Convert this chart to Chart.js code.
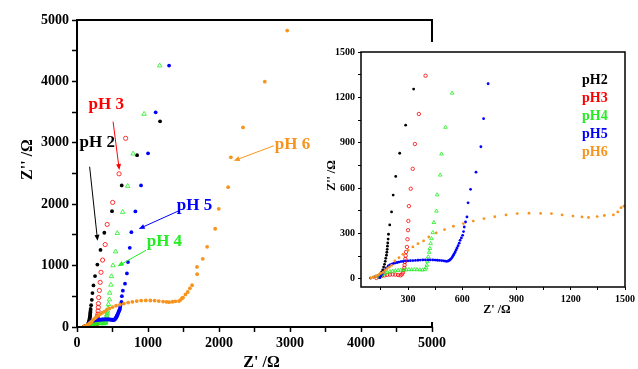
<!DOCTYPE html>
<html>
<head>
<meta charset="utf-8">
<script src="https://cdn.jsdelivr.net/npm/chart.js@4.4.1/dist/chart.umd.min.js"></script>
<style>
html, body { margin: 0; padding: 0; background: #fff; }
#wrap { position: relative; width: 638px; height: 369px; }
#main { position: absolute; left: 0; top: 0; }
#inset { position: absolute; left: 315px; top: 42px; background: #fff; }
</style>
</head>
<body>
<div id="wrap">
  <canvas id="main" width="638" height="369"></canvas>
  <canvas id="inset" width="323" height="280"></canvas>
</div>
<script>
// Z' (x) , Z'' (y) pairs, in ohm
var ph2 = [[93,4],[108,11],[122,16],[135,22],[146,32],[154,44],[160,58],[165,77],[170,95],[174,115],[177,135],[181,155],[183,175],[185,194],[186,215],[188,236],[190,262],[192,294],[199,356],[209,442],[218,553],[232,677],[254,830],[287,1016],[331,1255],[385,1535],[493,1887],[630,2306],[846,2798],[1170,3350]];
var ph3 = [[125,5],[140,12],[155,18],[170,22],[185,25],[200,27],[215,28],[230,27],[245,25],[258,22],[266,28],[272,40],[276,55],[279,72],[281,90],[283,110],[285,130],[287,152],[289,177],[294,210],[297,261],[300,321],[302,382],[305,480],[315,595],[326,727],[338,891],[360,1090],[397,1343],[425,1670],[502,2029],[592,2495],[685,3073]];
var ph4 = [[140,10],[150,20],[160,28],[172,36],[185,42],[200,47],[215,50],[230,53],[245,55],[260,57],[275,58],[290,59],[305,60],[320,60],[335,60],[350,60],[365,59],[380,58],[393,60],[400,72],[404,90],[408,115],[412,145],[417,175],[421,200],[425,232],[430,265],[437,305],[443,372],[457,447],[461,555],[478,686],[485,825],[507,1002],[544,1228],[568,1528],[643,1871],[714,2295],[790,2822],[945,3469],[1165,4257]];
var ph5 = [[144,7],[150,18],[156,30],[163,45],[170,58],[180,72],[191,84],[200,92],[210,97],[220,101],[230,104],[240,107],[250,110],[261,113],[272,115],[285,117],[300,118],[313,119],[327,120],[341,121],[355,122],[368,123],[382,124],[396,124],[410,124],[423,124],[437,124],[450,123],[462,122],[474,121],[486,120],[497,118],[507,116],[515,115],[522,117],[528,121],[534,127],[540,135],[546,145],[551,155],[556,166],[561,177],[566,190],[571,203],[577,218],[583,235],[588,254],[595,270],[602,287],[607,312],[611,342],[618,375],[626,409],[632,502],[646,591],[676,705],[703,873],[718,1059],[743,1290],[766,1545],[822,1882],[902,2306],[1001,2828],[1108,3497],[1297,4257]];
var ph6 = [[95,5],[108,10],[122,15],[131,22],[141,29],[152,36],[163,44],[174,55],[185,66],[197,77],[209,88],[227,117],[250,139],[272,161],[300,188],[327,210],[355,232],[386,250],[415,276],[456,303],[502,325],[551,347],[606,365],[661,381],[720,398],[780,410],[842,422],[904,431],[969,433],[1033,432],[1093,431],[1152,422],[1212,414],[1262,409],[1298,405],[1346,411],[1386,418],[1436,422],[1460,442],[1478,470],[1494,480],[1527,530],[1560,570],[1590,630],[1621,680],[1692,860],[1690,979],[1771,1110],[1833,1305],[1946,1600],[1997,1925],[2129,2278],[2167,2763],[2338,3250],[2645,3996],[2961,4828]];

var seriesNames = ['pH2', 'pH3', 'pH4', 'pH5', 'pH6'];
var seriesData = [ph2, ph3, ph4, ph5, ph6];
var seriesColors = ['#000000', '#ff0000', '#22ee22', '#0000ff', '#f7941d'];
var seriesShapes = ['circle', 'circle', 'triangle', 'circle', 'circle'];
var seriesFilled = [true, false, false, true, true];

var mainTicks = [0, 500, 1000, 1500, 2000, 2500, 3000, 3500, 4000, 4500, 5000];
var insetTicks = [0, 150, 300, 450, 600, 750, 900, 1050, 1200, 1350, 1500];

// arrow labels on the big plot (data coordinates)
var noteText = ['pH 2', 'pH 3', 'pH 4', 'pH 5', 'pH 6'];
var noteAt = [[286, 2996], [413, 3616], [1231, 1398], [1655, 1969], [3036, 2964]];
var noteFrom = [[178, 2610], [508, 3344], [973, 1251], [1433, 1892], [2772, 2952]];
var noteTo = [[290, 1403], [596, 2556], [572, 990], [869, 1598], [2208, 2707]];

function makeSets(dot, ring, tri) {
  var sets = [];
  for (var i = 0; i < seriesData.length; i++) {
    var pts = seriesData[i].map(function (p) { return { x: p[0], y: p[1] }; });
    var r = dot;
    if (seriesShapes[i] == 'triangle') r = tri;
    else if (!seriesFilled[i]) r = ring;
    sets.push({
      label: seriesNames[i],
      data: pts,
      order: 4 - i,
      pointStyle: seriesShapes[i],
      pointRadius: r,
      pointBorderWidth: seriesFilled[i] ? 0 : 0.8,
      pointBorderColor: seriesColors[i],
      pointBackgroundColor: seriesFilled[i] ? seriesColors[i] : 'rgba(0,0,0,0)',
      showLine: false
    });
  }
  return sets;
}

function arrow(ctx, x1, y1, x2, y2, col) {
  var ang = Math.atan2(y2 - y1, x2 - x1);
  ctx.strokeStyle = col;
  ctx.fillStyle = col;
  ctx.lineWidth = 1;
  ctx.beginPath();
  ctx.moveTo(x1, y1);
  ctx.lineTo(x2 - 4 * Math.cos(ang), y2 - 4 * Math.sin(ang));
  ctx.stroke();
  ctx.beginPath();
  ctx.moveTo(x2, y2);
  ctx.lineTo(x2 - 6 * Math.cos(ang) + 2.5 * Math.sin(ang), y2 - 6 * Math.sin(ang) - 2.5 * Math.cos(ang));
  ctx.lineTo(x2 - 6 * Math.cos(ang) - 2.5 * Math.sin(ang), y2 - 6 * Math.sin(ang) + 2.5 * Math.cos(ang));
  ctx.closePath();
  ctx.fill();
}

var extras = {
  id: 'extras',
  afterDatasetsDraw: function (chart, args, o) {
    var ctx = chart.ctx, a = chart.chartArea;
    var xs = chart.scales.x, ys = chart.scales.y;
    ctx.save();
    ctx.strokeStyle = '#000';
    ctx.lineWidth = o.frame;
    ctx.strokeRect(a.left, a.top, a.right - a.left, a.bottom - a.top);

    ctx.fillStyle = '#000';
    ctx.font = o.titleFont;
    ctx.textAlign = 'center';
    ctx.textBaseline = 'alphabetic';
    ctx.fillText("Z' /\u03A9", (a.left + a.right) / 2 + o.xDx, a.bottom + o.xDy);
    ctx.save();
    ctx.translate(a.left - o.yDx, (a.top + a.bottom) / 2 + o.yDy);
    ctx.rotate(-Math.PI / 2);
    ctx.fillText("Z'' /\u03A9", 0, 0);
    ctx.restore();

    if (o.notes) {
      for (var i = 0; i < noteText.length; i++) {
        arrow(ctx, xs.getPixelForValue(noteFrom[i][0]), ys.getPixelForValue(noteFrom[i][1]),
          xs.getPixelForValue(noteTo[i][0]), ys.getPixelForValue(noteTo[i][1]), seriesColors[i]);
        ctx.fillStyle = seriesColors[i];
        ctx.font = 'bold 17px "Liberation Serif"';
        ctx.textAlign = 'center';
        ctx.textBaseline = 'middle';
        ctx.fillText(noteText[i], xs.getPixelForValue(noteAt[i][0]), ys.getPixelForValue(noteAt[i][1]));
      }
    }
    if (o.legend) {
      ctx.font = 'bold 14px "Liberation Serif"';
      ctx.textAlign = 'left';
      ctx.textBaseline = 'middle';
      for (var j = 0; j < seriesNames.length; j++) {
        ctx.fillStyle = seriesColors[j];
        ctx.fillText(seriesNames[j], o.legend.x, o.legend.y + j * 18);
      }
    }
    ctx.restore();
  }
};

function axis(min, max, ticks, every, size, tick, width, fit) {
  return {
    type: 'linear',
    min: min,
    max: max,
    afterBuildTicks: function (s) {
      s.ticks = ticks.filter(function (v) { return v >= min && v <= max; }).map(function (v) { return { value: v }; });
    },
    afterFit: fit,
    border: { display: false },
    grid: { drawOnChartArea: false, tickLength: tick, tickColor: '#000', tickWidth: width },
    ticks: {
      color: '#000',
      padding: 3,
      maxRotation: 0,
      autoSkip: false,
      font: { family: 'Liberation Serif', size: size, weight: 'bold' },
      callback: function (v) { return v % every === 0 ? v : ''; }
    }
  };
}

new Chart(document.getElementById('main').getContext('2d'), {
  type: 'scatter',
  data: { datasets: makeSets(1.9, 2.1, 2.6) },
  options: {
    responsive: false,
    animation: false,
    layout: { padding: { top: 20, right: 206, left: 0, bottom: 0 } },
    plugins: {
      legend: { display: false },
      tooltip: { enabled: false },
      extras: { frame: 2, titleFont: 'bold 16px "Liberation Serif"', xDx: 7, xDy: 40, yDx: 45, yDy: -14, notes: true }
    },
    scales: {
      x: axis(0, 5000, mainTicks, 1000, 14, 5, 1.5, function (s) { s.height = 42; }),
      y: axis(0, 5000, mainTicks, 1000, 14, 5, 1.5, function (s) { s.width = 77; })
    }
  },
  plugins: [extras]
});

new Chart(document.getElementById('inset').getContext('2d'), {
  type: 'scatter',
  data: { datasets: makeSets(1.4, 1.7, 2.1) },
  options: {
    responsive: false,
    animation: false,
    layout: { padding: { top: 10, right: 11, left: 0, bottom: 0 } },
    plugins: {
      legend: { display: false },
      tooltip: { enabled: false },
      extras: { frame: 1.5, titleFont: 'bold 12px "Liberation Serif"', xDx: 4, xDy: 26, yDx: 26, yDy: 6, legend: { x: 267, y: 38 } }
    },
    scales: {
      x: axis(40, 1500, insetTicks, 300, 10, 3, 1, function (s) { s.height = 35; }),
      y: axis(-55, 1500, insetTicks, 300, 10, 3, 1, function (s) { s.width = 46; })
    }
  },
  plugins: [extras]
});
</script>
</body>
</html>
